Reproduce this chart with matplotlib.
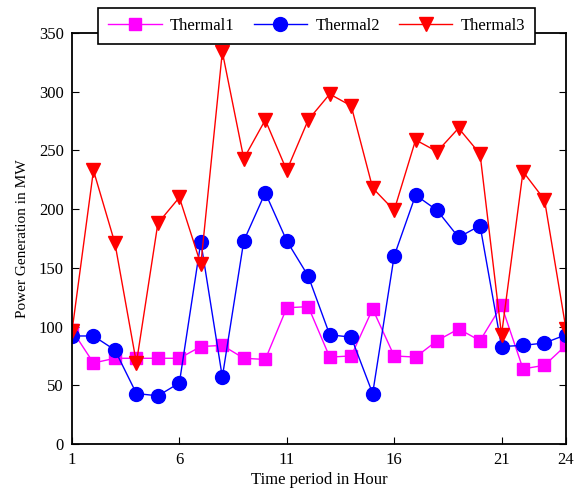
import matplotlib
matplotlib.use("Agg")
import matplotlib.pyplot as plt

plt.rcParams["font.family"] = ["Liberation Serif", "DejaVu Serif"]

hours = list(range(1, 25))
thermal1 = [97, 69, 73, 73, 73, 73, 83, 84, 73, 72, 116, 117,
            74, 75, 115, 75, 74, 88, 98, 88, 118, 64, 67, 84]
thermal2 = [92, 92, 80, 43, 41, 52, 172, 57, 173, 214, 173, 143,
            93, 91, 43, 160, 212, 199, 176, 186, 83, 84, 86, 93]
thermal3 = [96, 233, 171, 69, 188, 210, 153, 334, 243, 276, 233, 276,
            298, 288, 218, 199, 259, 249, 269, 247, 93, 232, 208, 98]

x_ticks = [1, 6, 11, 16, 21, 24]
y_ticks = list(range(0, 351, 50))

fig = plt.figure(figsize=(5.74, 4.93), dpi=100)
ax = fig.add_axes([0.1254, 0.0994, 0.8606, 0.8336])

ax.plot(hours, thermal1, color="magenta", marker="s", markersize=9, linewidth=1, label="Thermal1")
ax.plot(hours, thermal2, color="blue", marker="o", markersize=10, linewidth=1, label="Thermal2")
ax.plot(hours, thermal3, color="red", marker="v", markersize=10, linewidth=1, label="Thermal3")

ax.set_xlim(1, 24)
ax.set_ylim(0, 350)
ax.set_xticks(x_ticks)
ax.set_yticks(y_ticks)
ax.tick_params(direction="in", labelsize=12, right=True, length=5, pad=6)
for spine in ax.spines.values():
    spine.set_linewidth(1.3)

ax.set_xlabel("Time period in Hour", fontsize=12, labelpad=3)
ax.set_ylabel("Power Generation in MW", fontsize=11, labelpad=7)

leg = fig.legend(loc="center", bbox_to_anchor=(0.552, 0.948), ncol=3, fontsize=12,
                 frameon=True, fancybox=False, edgecolor="black", framealpha=1,
                 handlelength=3.2, handletextpad=0.5, columnspacing=1.15, borderpad=0.6)
leg.get_frame().set_linewidth(1.2)

fig.savefig("out.png", dpi=100)
